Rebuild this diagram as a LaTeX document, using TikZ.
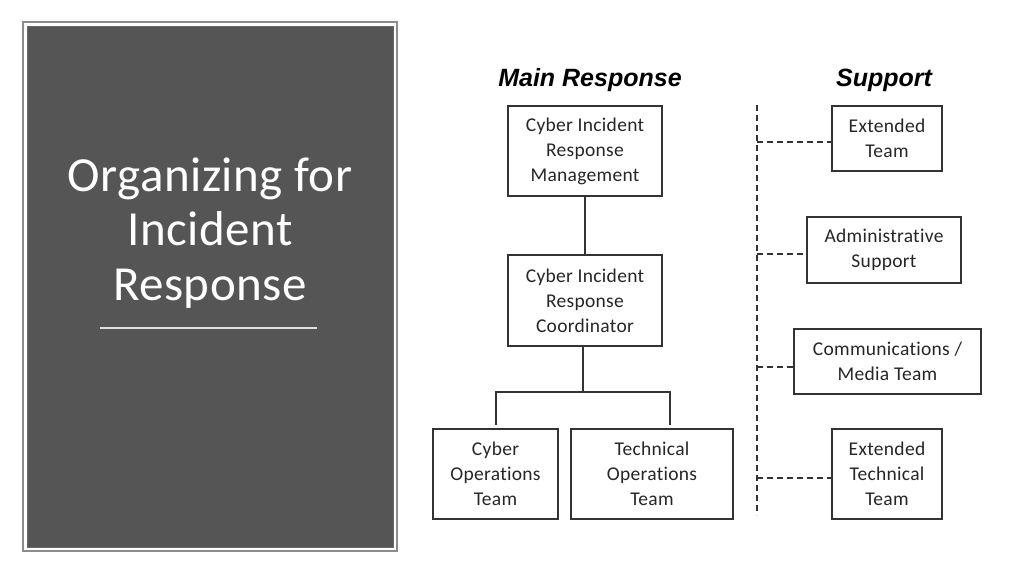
\documentclass[tikz,border=0pt]{standalone}
\usepackage{fontspec}
\setmainfont[Ligatures=NoCommon,LetterSpace=1.5]{Carlito}
\newfontfamily\titlefont[Ligatures=NoCommon,LetterSpace=1]{Carlito}
\newfontfamily\arialf{Liberation Sans}
\definecolor{panel}{HTML}{555555}
\definecolor{panedge}{HTML}{6A6A6A}
\definecolor{frame}{HTML}{8C8C8C}
\definecolor{ink}{HTML}{262626}
\definecolor{boxline}{HTML}{333333}
\begin{document}
\begin{tikzpicture}[x=1pt,y=-1pt,
  orgbox/.style={draw=boxline,line width=1.6pt,inner sep=0pt,align=center,
    text=ink,font=\fontsize{19.5}{25}\selectfont},
  conn/.style={draw=boxline,line width=1.6pt},
  dconn/.style={draw=boxline,line width=1.6pt,dash pattern=on 6pt off 4pt},
  head/.style={font=\arialf\bfseries\itshape\fontsize{25}{28}\selectfont,text=black},
  titleline/.style={text=white,anchor=base,inner sep=0pt,font=\titlefont\fontsize{49}{55}\selectfont}]
\useasboundingbox[fill=white] (0,0) rectangle (1024,576);
% left panel
\draw[frame,line width=1.5pt] (23,22) rectangle (397,551);
\filldraw[fill=panel,draw=panedge,line width=0.8pt] (27.5,26.5) rectangle (393,547.5);
\node[titleline] (title1) at (210,191) {Organizing for};
\node[titleline] (title2) at (210,245.5) {Incident};
\node[titleline] (title3) at (210,300.5) {Response};
\draw[color=white!75!gray,line width=1.3pt] (100,328) -- (317,328);
% headings
\node[head] (hmain) at (590,80) {Main Response};
\node[head] (hsup) at (884,80) {Support};
% main boxes
\node[orgbox,minimum width=154pt,minimum height=90pt] (m1) at (585,151) {Cyber Incident\\Response\\Management};
\node[orgbox,minimum width=154pt,minimum height=91pt] (m2) at (585,300.5) {Cyber Incident\\Response\\Coordinator};
\node[orgbox,minimum width=125pt,minimum height=90pt] (c1) at (495.5,474) {Cyber\\Operations\\Team};
\node[orgbox,minimum width=162pt,minimum height=90pt] (c2) at (652,474) {Technical\\Operations\\Team};
\draw[conn] (m1.south) -- (m2.north);
\coordinate (br) at (583,392);
\coordinate (bl) at (496,392);
\coordinate (bt) at (670,392);
\coordinate (dl) at (496,425);
\coordinate (dr) at (670,425);
\draw[conn] (m2.south -| br) -- (br);
\draw[conn] (dl) -- (bl) -- (bt) -- (dr);
% support boxes
\node[orgbox,minimum width=110pt,minimum height=65pt] (s1) at (887,138.5) {Extended\\Team};
\node[orgbox,minimum width=154pt,minimum height=66pt] (s2) at (884,250) {Administrative\\Support};
\node[orgbox,minimum width=187pt,minimum height=65pt] (s3) at (887.5,361.5) {Communications /\\Media Team};
\node[orgbox,minimum width=110pt,minimum height=90pt] (s4) at (887,474) {Extended\\Technical\\Team};
\coordinate (spt) at (757,105);
\coordinate (spb) at (757,515);
\coordinate (v1) at (757,142);
\coordinate (v2) at (757,254);
\coordinate (v3) at (757,367);
\coordinate (v4) at (757,478);
\draw[dconn] (spt) -- (spb);
\draw[dconn] (v1) -- (v1 -| s1.west);
\draw[dconn] (v2) -- (v2 -| s2.west);
\draw[dconn] (v3) -- (v3 -| s3.west);
\draw[dconn] (v4) -- (v4 -| s4.west);
\end{tikzpicture}
\end{document}
